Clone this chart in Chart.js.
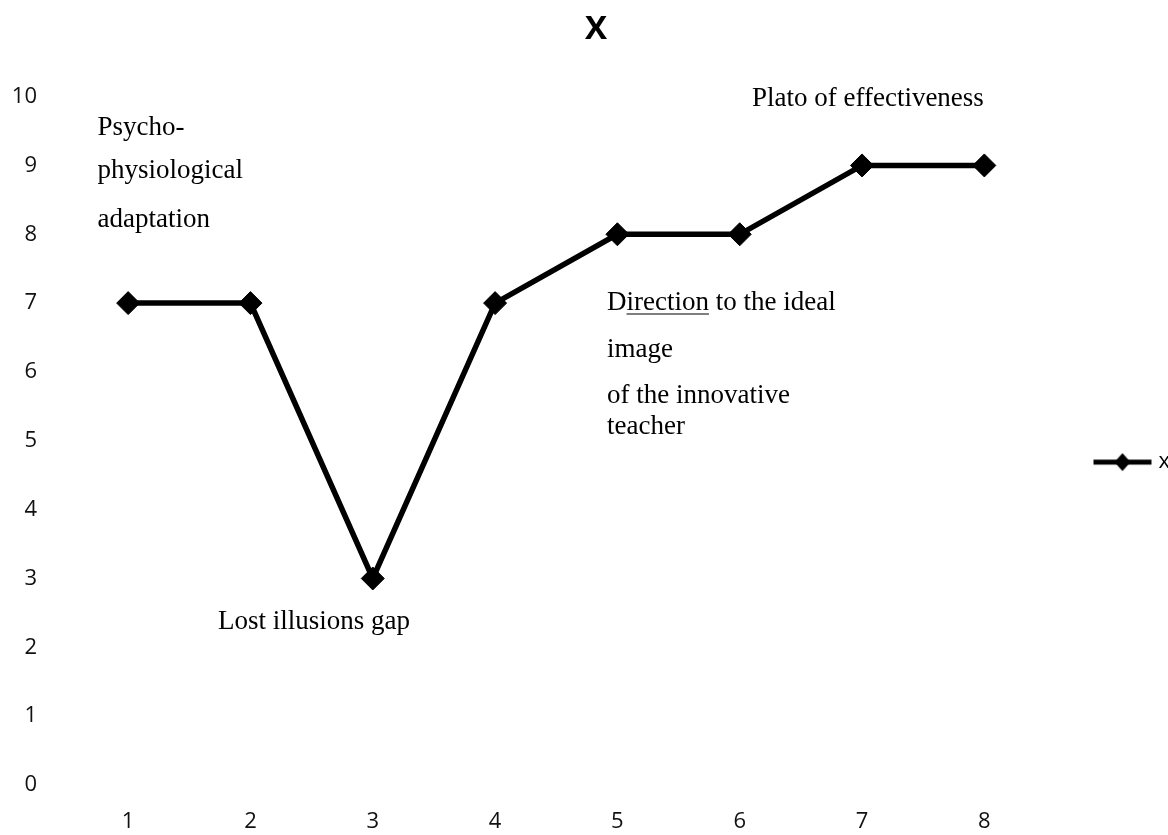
<!doctype html>
<html lang="en">
<head>
    <meta charset="utf-8">
    <title>X</title>
    <style>
        * {
            margin: 0;
            padding: 0;
        }

        body {
            width: 1168px;
            height: 835px;
            overflow: hidden;
            background: #fff;
        }

        .chartBox {
            width: 1168px;
            height: 835px;
        }
    </style>
</head>
<body>
    <div class="chartBox">
        <canvas id="myChart"></canvas>
    </div>
    <script src="https://cdn.jsdelivr.net/npm/chart.js/dist/chart.umd.min.js"></script>
    <script>
        // data
        const categories = ['1', '2', '3', '4', '5', '6', '7', '8'];
        const seriesX = [7, 7, 3, 7, 8, 8, 9, 9];
        const yMin = 0;
        const yMax = 10;

        // text notes on the plot, anchored in data units (category index, value)
        const noteTexts = ['Psycho-', 'physiological', 'adaptation', 'Lost illusions gap',
            'Plato of effectiveness', 'Direction to the ideal', 'image', 'of the innovative', 'teacher'];
        const noteX = [-0.25, -0.25, -0.25, 0.735, 5.1, 3.915, 3.915, 3.915, 3.915];
        const noteY = [9.55, 8.92, 8.21, 2.37, 9.97, 7.0, 6.32, 5.65, 5.2];

        // legend symbol: line with a diamond in the middle
        const legendIcon = document.createElement('canvas');
        legendIcon.width = 70;
        legendIcon.height = 26;
        (function () {
            const c = legendIcon.getContext('2d');
            c.strokeStyle = '#000';
            c.lineWidth = 5;
            c.beginPath();
            c.moveTo(11, 13);
            c.lineTo(69, 13);
            c.stroke();
            c.fillStyle = '#000';
            c.beginPath();
            c.moveTo(40, 4);
            c.lineTo(48, 13);
            c.lineTo(40, 22);
            c.lineTo(32, 13);
            c.closePath();
            c.fill();
        })();

        const notesPlugin = {
            id: 'notes',
            afterDatasetsDraw(chart) {
                const ctx = chart.ctx;
                const xs = chart.scales.x;
                const ys = chart.scales.y;
                ctx.save();
                ctx.font = '27px "Liberation Serif"';
                ctx.fillStyle = '#000';
                ctx.textAlign = 'left';
                ctx.textBaseline = 'middle';
                noteTexts.forEach((t, i) => {
                    const px = xs.getPixelForValue(noteX[i]);
                    const py = ys.getPixelForValue(noteY[i]);
                    ctx.fillText(t, px, py);
                    if (t.startsWith('Direction')) {
                        // underline "irection"
                        const a = ctx.measureText('D').width;
                        const b = ctx.measureText('Direction').width;
                        ctx.strokeStyle = '#555';
                        ctx.lineWidth = 1.5;
                        ctx.beginPath();
                        ctx.moveTo(px + a, py + 11);
                        ctx.lineTo(px + b, py + 11);
                        ctx.stroke();
                    }
                });
                ctx.restore();
            }
        };

        const config = {
            type: 'line',
            data: {
                labels: categories,
                datasets: [{
                    label: 'x',
                    data: seriesX,
                    borderColor: '#000',
                    backgroundColor: '#000',
                    borderWidth: 5.5,
                    pointStyle: 'rectRot',
                    pointRadius: 11.5,
                    pointHoverRadius: 11.5,
                    pointBorderWidth: 1,
                    tension: 0
                }]
            },
            options: {
                responsive: true,
                maintainAspectRatio: false,
                animation: false,
                layout: {
                    padding: { left: 12, right: -12, top: 0, bottom: 0 }
                },
                plugins: {
                    title: {
                        display: true,
                        text: 'X',
                        color: '#000',
                        font: { family: 'Open Sans', size: 33, weight: 'bold' },
                        padding: { top: 10, bottom: 47 }
                    },
                    legend: {
                        position: 'right',
                        title: {
                            display: true,
                            text: ' ',
                            font: { size: 1 },
                            padding: { top: 0, bottom: 88 }
                        },
                        labels: {
                            usePointStyle: true,
                            pointStyle: legendIcon,
                            pointStyleWidth: 60,
                            padding: 42,
                            color: '#000',
                            font: { family: 'Open Sans', size: 22 }
                        }
                    },
                    tooltip: { enabled: false }
                },
                scales: {
                    x: {
                        offset: true,
                        grid: { display: false, drawTicks: false },
                        border: { display: false },
                        afterFit(scale) {
                            scale.height = 50;
                        },
                        ticks: {
                            padding: 24,
                            color: '#111',
                            font: { family: 'Open Sans', size: 22 }
                        }
                    },
                    y: {
                        min: yMin,
                        max: yMax,
                        grid: { display: false, drawTicks: false },
                        border: { display: false },
                        afterFit(scale) {
                            scale.width = 55;
                        },
                        ticks: {
                            stepSize: 1,
                            padding: 30,
                            color: '#111',
                            font: { family: 'Open Sans', size: 22 }
                        }
                    }
                }
            },
            plugins: [notesPlugin]
        };

        const myChart = new Chart(document.getElementById('myChart'), config);
    </script>
</body>
</html>
